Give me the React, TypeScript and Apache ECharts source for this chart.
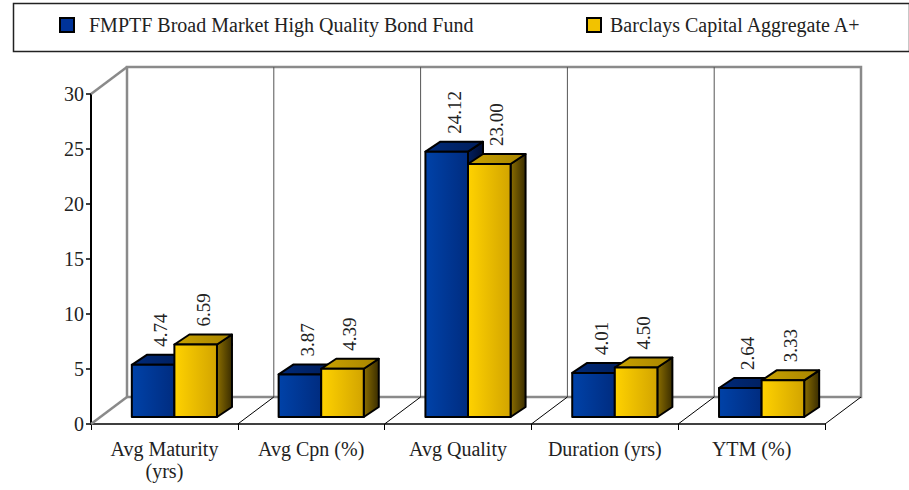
import React, { useEffect, useRef } from "react";
import * as echarts from "echarts";

const categories = ["Avg Maturity\n(yrs)", "Avg Cpn (%)", "Avg Quality", "Duration (yrs)", "YTM (%)"];
const seriesNames = ["FMPTF Broad Market High Quality Bond Fund", "Barclays Capital Aggregate A+"];
const fundValues = [4.74, 3.87, 24.12, 4.01, 2.64];
const indexValues = [6.59, 4.39, 23.0, 4.5, 3.33];
const yMin = 0;
const yMax = 30;
const yInterval = 5;

const FONT = "Liberation Serif";

const palettes = [
  {
    front: ["#0042a8", "#002c80"],
    top: ["#002a78", "#001d5a"],
    side: ["#001f60", "#000c30"],
    legend: "#003399",
  },
  {
    front: ["#ffd200", "#d2a400"],
    top: ["#c9a200", "#a88400"],
    side: ["#8a6d00", "#3a2d00"],
    legend: "#f2c200",
  },
];

const grad = (c: string[]) =>
  new echarts.graphic.LinearGradient(0, 0, 1, 0, [
    { offset: 0, color: c[0] },
    { offset: 1, color: c[1] },
  ]);

const SHIFT_X = 10;
const SHIFT_Y = -7;
const DEPTH_X = 15;
const DEPTH_Y = -10;
const WALL_X = 36;
const WALL_Y = -27;

function barRenderer(seriesIdx: number) {
  const p = palettes[seriesIdx];
  return (params: any, api: any) => {
    const ci = api.value(0);
    const v = api.value(1);
    const base = api.coord([ci, 0]);
    const top = api.coord([ci, v]);
    const catW = api.size([1, 0])[0];
    const barW = catW * 0.29;
    const x0 = base[0] + SHIFT_X + (seriesIdx === 0 ? -barW : 0);
    const x1 = x0 + barW;
    const yb = base[1] + SHIFT_Y;
    const yt = top[1] + SHIFT_Y;
    const stroke = { stroke: "#000", lineWidth: 2, lineJoin: "round" };
    return {
      type: "group",
      children: [
        {
          type: "polygon",
          shape: {
            points: [
              [x1, yb],
              [x1, yt],
              [x1 + DEPTH_X, yt + DEPTH_Y],
              [x1 + DEPTH_X, yb + DEPTH_Y],
            ],
          },
          style: { fill: grad(p.side), ...stroke },
        },
        {
          type: "polygon",
          shape: {
            points: [
              [x0, yt],
              [x1, yt],
              [x1 + DEPTH_X, yt + DEPTH_Y],
              [x0 + DEPTH_X, yt + DEPTH_Y],
            ],
          },
          style: { fill: grad(p.top), ...stroke },
        },
        {
          type: "rect",
          shape: { x: x0, y: yt, width: barW, height: yb - yt },
          style: { fill: grad(p.front), ...stroke },
        },
        {
          type: "text",
          x: x0 + barW / 2 + DEPTH_X / 2,
          y: yt + DEPTH_Y - 8,
          rotation: Math.PI / 2,
          style: {
            text: Number(v).toFixed(2),
            fontSize: 19,
            fontFamily: FONT,
            fill: "#222",
            align: "left",
            verticalAlign: "middle",
          },
        },
      ],
    };
  };
}

function frameRenderer(params: any, api: any) {
  const cs = params.coordSys;
  const x = cs.x;
  const y = cs.y;
  const w = cs.width;
  const h = cs.height;
  const n = categories.length;
  const grey = { stroke: "#8a8a8a", lineWidth: 2.5, fill: "none" };
  const children: any[] = [
    {
      type: "polyline",
      shape: {
        points: [
          [x + WALL_X, y + h + WALL_Y],
          [x + WALL_X, y + WALL_Y],
          [x + w + WALL_X, y + WALL_Y],
          [x + w + WALL_X, y + h + WALL_Y],
          [x + WALL_X, y + h + WALL_Y],
        ],
      },
      style: grey,
    },
    {
      type: "line",
      shape: { x1: x, y1: y, x2: x + WALL_X, y2: y + WALL_Y },
      style: grey,
    },
    {
      type: "line",
      shape: { x1: x, y1: y + h, x2: x + WALL_X, y2: y + h + WALL_Y },
      style: grey,
    },
  ];
  for (let i = 1; i < n; i++) {
    const bx = x + (w * i) / n + WALL_X;
    children.push({
      type: "line",
      shape: { x1: bx, y1: y + WALL_Y, x2: bx, y2: y + h + WALL_Y },
      style: { stroke: "#555", lineWidth: 1 },
    });
  }
  for (let i = 1; i <= n; i++) {
    const fx = x + (w * i) / n;
    children.push({
      type: "line",
      shape: { x1: fx, y1: y + h, x2: fx + WALL_X, y2: y + h + WALL_Y },
      style: { stroke: "#000", lineWidth: 1 },
    });
  }
  return { type: "group", children };
}

export default function App() {
  const ref = useRef<HTMLDivElement>(null);
  useEffect(() => {
    if (!ref.current) return;
    const chart = echarts.init(ref.current, null, { renderer: "svg" });
    chart.setOption({
      animation: false,
      backgroundColor: "#fff",
      textStyle: { fontFamily: FONT },
      graphic: [
        {
          type: "rect",
          left: 11,
          top: 1,
          shape: { x: 0, y: 0, width: 896, height: 48 },
          style: { fill: "none", stroke: "#222", lineWidth: 1.5 },
          silent: true,
        },
      ],
      legend: [
        {
          data: [
            {
              name: seriesNames[0],
              itemStyle: { color: palettes[0].legend, borderColor: "#000", borderWidth: 2 },
            },
          ],
          left: 59,
          top: 14,
          padding: 0,
          icon: "rect",
          itemWidth: 14,
          itemHeight: 14,
          textStyle: { fontSize: 20, fontFamily: FONT, color: "#222", padding: [0, 0, 0, 10], lineHeight: 22 },
        },
        {
          data: [
            {
              name: seriesNames[1],
              itemStyle: { color: palettes[1].legend, borderColor: "#000", borderWidth: 2 },
            },
          ],
          left: 586,
          top: 14,
          padding: 0,
          icon: "rect",
          itemWidth: 14,
          itemHeight: 14,
          textStyle: { fontSize: 20, fontFamily: FONT, color: "#222", padding: [0, 0, 0, 4], lineHeight: 22 },
        },
      ],
      grid: { left: 91, top: 94, width: 734, height: 330, containLabel: false },
      xAxis: {
        type: "category",
        data: categories,
        boundaryGap: true,
        axisLine: { show: true, lineStyle: { color: "#000", width: 1.5 } },
        axisTick: { show: true, length: 6, lineStyle: { color: "#000", width: 1 } },
        axisLabel: {
          interval: 0,
          fontSize: 20,
          lineHeight: 22,
          fontFamily: FONT,
          color: "#222",
          margin: 14,
        },
        splitLine: { show: false },
      },
      yAxis: {
        type: "value",
        min: yMin,
        max: yMax,
        interval: yInterval,
        axisLine: { show: true, lineStyle: { color: "#000", width: 2 } },
        axisTick: { show: true, length: 5, lineStyle: { color: "#000", width: 1.5 } },
        axisLabel: { fontSize: 20, fontFamily: FONT, color: "#222", margin: 7 },
        splitLine: { show: false },
      },
      series: [
        {
          type: "custom",
          name: "frame",
          silent: true,
          z: 1,
          data: [[0, 0]],
          renderItem: frameRenderer,
          encode: { x: 0, y: 1 },
        },
        {
          type: "custom",
          name: seriesNames[0],
          z: 3,
          itemStyle: { color: palettes[0].legend },
          data: fundValues.map((v, i) => [i, v]),
          encode: { x: 0, y: 1 },
          renderItem: barRenderer(0),
        },
        {
          type: "custom",
          name: seriesNames[1],
          z: 4,
          itemStyle: { color: palettes[1].legend },
          data: indexValues.map((v, i) => [i, v]),
          encode: { x: 0, y: 1 },
          renderItem: barRenderer(1),
        },
      ],
    });
    return () => chart.dispose();
  }, []);
  return (
    <div
      ref={ref}
      style={{ position: "fixed", left: 0, top: 0, width: 909, height: 490, background: "#fff" }}
    />
  );
}
